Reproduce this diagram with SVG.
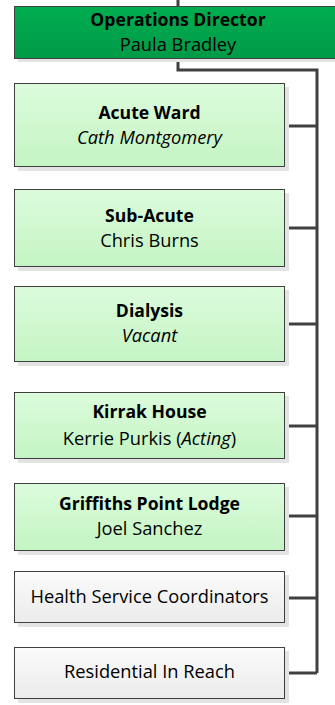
<svg xmlns="http://www.w3.org/2000/svg" width="335" height="705" viewBox="0 0 335 705">
<defs>
<linearGradient id="gTop" x1="0" y1="0" x2="0" y2="1"><stop offset="0" stop-color="#00ad50"/><stop offset="1" stop-color="#009a47"/></linearGradient>
<linearGradient id="gLight" x1="0" y1="0" x2="0" y2="1"><stop offset="0" stop-color="#dcfcdc"/><stop offset="1" stop-color="#c4f4c4"/></linearGradient>
<linearGradient id="gGrey" x1="0" y1="0" x2="0" y2="1"><stop offset="0" stop-color="#fbfbfb"/><stop offset="1" stop-color="#ebebeb"/></linearGradient>
</defs>
<style>
.shadow{fill:#e3e3e3}
.box{stroke:#404040;stroke-width:1}
.green{fill:url(#gLight)}
.grey{fill:url(#gGrey)}
.top{fill:url(#gTop)}
text{font-family:"Open Sans","Noto Sans",sans-serif;font-size:18.3px;fill:#000;text-anchor:middle}
.b{font-weight:bold;font-size:17.6px}
.i{font-style:italic}
.conn{fill:none;stroke:#404040;stroke-width:3}
</style>
<g id="connectors">
<path class="conn" d="M178 0V7"/>
<path class="conn" d="M178 58V70H317V673"/>
<path class="conn" d="M285 126H317"/>
<path class="conn" d="M285 228H317"/>
<path class="conn" d="M285 324H317"/>
<path class="conn" d="M285 426H317"/>
<path class="conn" d="M285 516H317"/>
<path class="conn" d="M285 598H317"/>
<path class="conn" d="M285 673H317"/>
</g>
<g id="director">
<rect class="shadow" x="18" y="9" width="330" height="53"/>
<rect class="box top" x="14.5" y="6.5" width="330" height="52"/>
<text x="178" y="26" class="b">Operations Director</text>
<text x="178" y="51">Paula Bradley</text>
</g>
<g id="acute">
<rect class="shadow" x="18" y="87" width="271" height="84"/>
<rect class="box green" x="14.5" y="83.5" width="270" height="83"/>
<text x="149.5" y="119" class="b">Acute Ward</text>
<text x="149.5" y="144" class="i">Cath Montgomery</text>
</g>
<g id="subacute">
<rect class="shadow" x="18" y="193" width="271" height="78"/>
<rect class="box green" x="14.5" y="189.5" width="270" height="77"/>
<text x="149.5" y="222" class="b">Sub-Acute</text>
<text x="149.5" y="247">Chris Burns</text>
</g>
<g id="dialysis">
<rect class="shadow" x="18" y="290" width="271" height="76"/>
<rect class="box green" x="14.5" y="286.5" width="270" height="75"/>
<text x="149.5" y="317" class="b">Dialysis</text>
<text x="149.5" y="342" class="i">Vacant</text>
</g>
<g id="kirrak">
<rect class="shadow" x="18" y="396" width="271" height="67"/>
<rect class="box green" x="14.5" y="392.5" width="270" height="66"/>
<text x="149.5" y="418" class="b">Kirrak House</text>
<text x="149.5" y="445">Kerrie Purkis (<tspan class="i">Acting</tspan>)</text>
</g>
<g id="griffiths">
<rect class="shadow" x="18" y="487" width="271" height="68"/>
<rect class="box green" x="14.5" y="483.5" width="270" height="67"/>
<text x="149.5" y="510" class="b">Griffiths Point Lodge</text>
<text x="149.5" y="535">Joel Sanchez</text>
</g>
<g id="hsc">
<rect class="shadow" x="18" y="575" width="271" height="52"/>
<rect class="box grey" x="14.5" y="571.5" width="270" height="51"/>
<text x="149.5" y="603">Health Service Coordinators</text>
</g>
<g id="rir">
<rect class="shadow" x="18" y="651" width="271" height="52"/>
<rect class="box grey" x="14.5" y="647.5" width="270" height="51"/>
<text x="149.5" y="678">Residential In Reach</text>
</g>
</svg>
